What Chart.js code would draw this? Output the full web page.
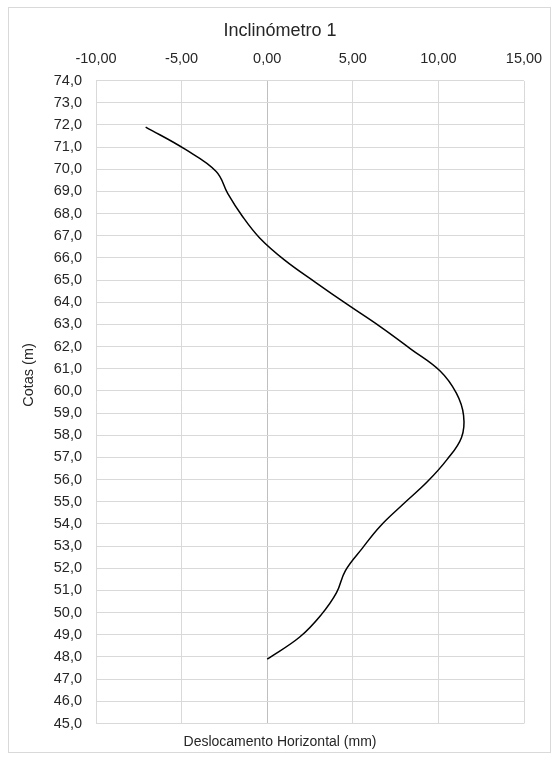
<!DOCTYPE html>
<html lang="pt">
<head>
<meta charset="utf-8">
<title>Inclinómetro 1</title>
<script src="https://cdn.jsdelivr.net/npm/chart.js@4.4.1/dist/chart.umd.min.js"></script>
<style>
  html, body { margin: 0; padding: 0; background: #ffffff; }
  canvas { display: block; }
</style>
</head>
<body>
<canvas id="chart" width="560" height="760"></canvas>
<script>
// Leituras do inclinómetro: cota (m) e deslocamento horizontal acumulado (mm)
const cotas = [47.9, 48.9, 49.9, 50.9, 51.9, 52.9, 53.9, 54.9, 55.9, 56.9, 57.9, 58.9,
               59.9, 60.9, 61.9, 62.9, 63.9, 64.9, 65.9, 66.9, 67.9, 68.9, 69.9, 70.9, 71.9];
const deslocamentos = [0.00, 1.90, 3.15, 4.05, 4.57, 5.55, 6.60, 7.95, 9.35, 10.50, 11.35, 11.47,
                       11.05, 10.10, 8.37, 6.60, 4.68, 2.82, 1.02, -0.44, -1.47, -2.30, -2.98, -4.80, -7.10];

// Eixos
const xTicks = [-10, -5, 0, 5, 10, 15];
const yMin = 45, yMax = 74, yStep = 1;

const tituloGrafico = 'Inclinómetro 1';
const tituloX = 'Deslocamento Horizontal (mm)';
const tituloY = 'Cotas (m)';

const FONT = "'Liberation Sans', Arial, sans-serif";
const TEXT = '#262626';
const GRID = '#d9d9d9';

const pontos = cotas.map((c, i) => ({ x: deslocamentos[i], y: c }));

// Moldura exterior e título do eixo vertical
const moldura = {
  id: 'moldura',
  beforeDraw(chart) {
    const ctx = chart.ctx;
    ctx.save();
    ctx.strokeStyle = GRID;
    ctx.lineWidth = 1;
    ctx.strokeRect(8.5, 7.5, 542, 745);
    ctx.restore();
  },
  afterDraw(chart) {
    const ctx = chart.ctx;
    ctx.save();
    ctx.translate(29, 375);
    ctx.rotate(-Math.PI / 2);
    ctx.font = '14.5px ' + FONT;
    ctx.fillStyle = TEXT;
    ctx.textAlign = 'center';
    ctx.textBaseline = 'middle';
    ctx.fillText(tituloY, 0, 0);
    ctx.restore();
  }
};

new Chart(document.getElementById('chart'), {
  type: 'scatter',
  data: {
    datasets: [{
      data: pontos,
      showLine: true,
      borderColor: '#000000',
      borderWidth: 1.5,
      pointRadius: 0,
      pointHoverRadius: 0,
      tension: 0.4,
      fill: false
    }]
  },
  options: {
    responsive: false,
    animation: false,
    devicePixelRatio: 1,
    layout: { padding: { left: 0, right: 0, top: 0, bottom: 0 } },
    plugins: {
      legend: { display: false },
      tooltip: { enabled: false },
      title: {
        display: true,
        text: tituloGrafico,
        color: TEXT,
        font: { family: FONT, size: 18, weight: 'normal' },
        padding: { top: 20.5, bottom: 0 }
      },
      subtitle: {
        display: true,
        position: 'bottom',
        text: tituloX,
        color: TEXT,
        font: { family: FONT, size: 14, weight: 'normal' },
        padding: { top: 10.1, bottom: 9.6 }
      }
    },
    scales: {
      x: {
        type: 'linear',
        position: 'top',
        min: xTicks[0],
        max: xTicks[xTicks.length - 1],
        afterBuildTicks(scale) { scale.ticks = xTicks.map(v => ({ value: v })); },
        afterFit(scale) {
          scale.height = 80.5 - 20.5 - 21.6;
          scale.paddingLeft = 0;
          scale.paddingRight = 36;
        },
        ticks: {
          color: TEXT,
          font: { family: FONT, size: 14.5 },
          padding: 12.3,
          maxRotation: 0,
          callback: v => v.toFixed(2).replace('.', ',')
        },
        grid: {
          drawTicks: false,
          color: ctx => (ctx.tick && ctx.tick.value === 0) ? '#bfbfbf' : GRID,
          lineWidth: 1
        },
        border: { display: false }
      },
      y: {
        type: 'linear',
        position: 'left',
        min: yMin,
        max: yMax,
        afterFit(scale) {
          scale.width = 96;
          scale.paddingTop = 0;
          scale.paddingBottom = 0;
        },
        ticks: {
          stepSize: yStep,
          autoSkip: false,
          color: TEXT,
          font: { family: FONT, size: 14.5 },
          padding: 14,
          callback: v => v.toFixed(1).replace('.', ',')
        },
        grid: { drawTicks: false, color: GRID, lineWidth: 1 },
        border: { display: false }
      }
    }
  },
  plugins: [moldura]
});
</script>
</body>
</html>
